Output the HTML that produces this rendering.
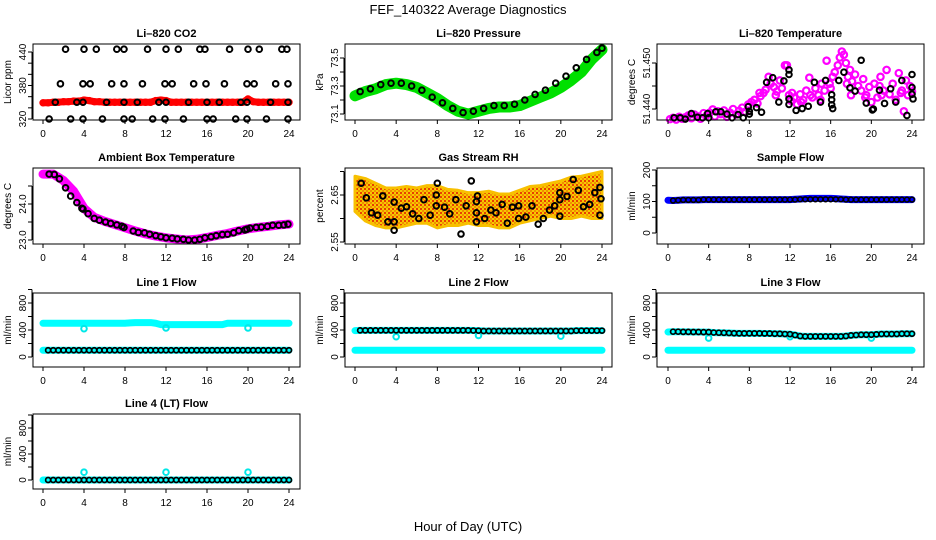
<!DOCTYPE html>
<html><head><meta charset="utf-8"><style>
html,body{margin:0;padding:0;background:#fff}
svg{display:block;font-family:"Liberation Sans",sans-serif}
</style></head><body>
<svg id="chart" width="936" height="540" viewBox="0 0 936 540" xmlns="http://www.w3.org/2000/svg">
<defs>
<pattern id="speckle" width="4" height="4" patternUnits="userSpaceOnUse">
<rect width="4" height="4" fill="#f8c800"/>
<rect x="0" y="0" width="2" height="2" fill="#e84000"/>
<rect x="2" y="2" width="2" height="2" fill="#f09000"/>
</pattern>
</defs>
<text x="468" y="14" font-size="13" text-anchor="middle">FEF_140322  Average Diagnostics</text>
<text x="468" y="531" font-size="13" text-anchor="middle">Hour of Day (UTC)</text>
</svg>
<script>
// ---- data ----
const co2BlackT = [2.2,4.0,5.2,7.2,7.9,10.2,12.0,13.2,15.3,15.8,18.2,20.0,21.1,23.3,23.8, 1.7,3.9,4.6,6.7,7.9,9.7,11.9,12.6,14.7,15.9,17.7,19.9,20.6,22.7,23.9, 1.2,3.3,3.9,6.2,7.9,9.2,11.3,12.0,14.2,16.0,17.2,19.3,19.9,22.2,23.9, 0.6,2.7,3.9,5.8,7.9,8.7,10.7,11.9,13.7,16.0,16.6,18.8,19.9,21.8,23.9];
const co2BlackV = [445,445,445,445,445,445,445,445,445,445,445,445,445,445,445, 383,383,383,383,383,383,383,383,383,383,383,383,383,383,383, 350,350,350,350,350,350,350,350,350,350,350,350,350,350,350, 320,320,320,320,320,320,320,320,320,320,320,320,320,320,320];
const co2Red = [349,349,350,350,351,351,352,352,354,353,351,351,350,350,350,350,350,350,350,350,350,350,353,354,353,350,350,350,350,350,350,350,350,350,350,350,350,350,350,350,356,351,350,350,350,350,350,350,350];
const pressGreen = [73.23,73.26,73.28,73.31,73.32,73.31,73.29,73.25,73.21,73.16,73.12,73.10,73.12,73.14,73.15,73.15,73.16,73.19,73.22,73.25,73.29,73.34,73.40,73.49,73.56];
const pressBlackT = [0.5,1.5,2.5,3.5,4.5,5.5,6.5,7.5,8.5,9.5,10.5,11.5,12.5,13.5,14.5,15.5,16.5,17.5,18.5,19.5,20.5,21.5,22.5,23.5,24];
const pressBlackV = [73.26,73.28,73.31,73.32,73.32,73.30,73.27,73.22,73.18,73.14,73.11,73.12,73.14,73.16,73.16,73.17,73.20,73.24,73.27,73.32,73.37,73.43,73.49,73.54,73.57];
const tempMagT = [0.2,0.5,0.8,1.1,1.4,1.7,2.0,2.3,2.6,2.9,3.2,3.5,3.8,4.1,4.4,4.6,4.9,5.2,5.5,5.8,6.1,6.4,6.7,7.0,7.3,7.6,7.9,8.2,8.5,8.8,9.1,9.4,9.6,9.9,10.1,10.4,10.7,11.0,11.2,11.5,11.7,11.9,12.1,12.4,12.7,13.0,13.3,13.6,13.9,14.2,14.5,14.8,15.1,15.4,15.6,15.9,16.2,16.4,16.7,16.9,17.1,17.3,17.5,17.7,17.9,18.1,18.4,18.7,19.0,19.2,19.5,19.8,20.0,20.3,20.6,20.9,21.2,21.5,21.8,22.1,22.4,22.7,23.0,23.2,23.4,23.6,23.8,24.0, 9.0,10.6,13.1,14.0,16.0,18.0,19.4,21.0,22.9,12.2,15.0,17.6,20.8];
const tempMagV = [51.4378,51.4381,51.4377,51.4383,51.4379,51.4382,51.4386,51.4380,51.4388,51.4384,51.4379,51.4391,51.4386,51.4392,51.4399,51.4384,51.4395,51.4389,51.4397,51.4383,51.4392,51.4400,51.4388,51.4396,51.4403,51.4394,51.4410,51.4415,51.4420,51.4412,51.4428,51.4435,51.4442,51.4470,51.4455,51.4448,51.4438,51.4462,51.4445,51.4495,51.4495,51.4430,51.4418,51.4425,51.4410,51.4432,51.4420,51.4440,51.4468,51.4425,51.4445,51.4430,51.4455,51.4440,51.4505,51.4455,51.4470,51.4480,51.4495,51.4512,51.4525,51.4518,51.4500,51.4470,51.4485,51.4460,51.4475,51.4450,51.4440,51.4465,51.4430,51.4448,51.4415,51.4455,51.4425,51.4470,51.4440,51.4485,51.4432,51.4455,51.4420,51.4478,51.4440,51.4395,51.4462,51.4430,51.4450,51.4438, 51.4435,51.4430,51.4415,51.4430,51.4445,51.4430,51.4425,51.4430,51.4435,51.4435,51.4420,51.4455,51.4450];
const tempBlackT = [0.6,1.2,1.7,2.3,2.9,3.4,3.9,4.0,4.7,5.2,5.8,6.3,6.9,7.4,7.9,8.0,8.0,8.7,9.2,9.7,10.3,10.9,11.4,11.9,11.9,11.9,11.9,12.6,13.2,13.8,14.4,15.0,15.5,16.1,16.1,16.1,16.2,16.8,17.3,17.9,18.4,19.0,19.5,20.1,20.2,20.8,21.3,21.9,22.4,23.0,23.5,24.0,24.0,24.0,24.1];
const tempBlackV = [51.4381,51.4381,51.4378,51.4390,51.4382,51.4381,51.4390,51.4381,51.4394,51.4394,51.4389,51.4381,51.4388,51.4381,51.4405,51.4395,51.4389,51.4403,51.4393,51.4458,51.4468,51.4415,51.4461,51.4485,51.4475,51.4422,51.4410,51.4397,51.4401,51.4406,51.4458,51.4415,51.4462,51.4431,51.4420,51.4409,51.4401,51.4462,51.4480,51.4446,51.4439,51.4506,51.4413,51.4398,51.4400,51.4441,51.4412,51.4444,51.4415,51.4462,51.4386,51.4475,51.4447,51.4432,51.4422];
const ambMag = [24.83,24.83,24.65,24.35,23.88,23.63,23.52,23.43,23.34,23.25,23.17,23.11,23.06,23.03,23.00,23.02,23.07,23.13,23.18,23.25,23.31,23.35,23.38,23.42,23.44];
const ambBlackT = [0.6,1.1,1.6,2.2,2.7,3.3,3.8,3.9,4.4,5.0,5.5,6.1,6.6,7.2,7.7,7.9,8.8,9.3,9.9,10.4,11.0,11.5,12.0,12.6,13.1,13.7,14.2,14.8,15.3,15.8,16.4,16.9,17.5,18.0,18.6,19.1,19.7,19.9,20.2,20.8,21.3,21.9,22.4,23.0,23.5,23.9];
const ambBlackV = [24.83,24.82,24.70,24.45,24.22,24.04,23.88,23.86,23.73,23.60,23.55,23.50,23.46,23.42,23.38,23.35,23.25,23.21,23.20,23.16,23.12,23.09,23.06,23.05,23.03,23.02,23.00,23.00,23.02,23.06,23.09,23.12,23.15,23.16,23.20,23.26,23.28,23.30,23.33,23.35,23.36,23.38,23.41,23.41,23.42,23.44];
const rhHours = [0,1,2,3,4,5,6,7,8,9,10,11,12,13,14,15,16,17,18,19,20,21,22,23,24];
const rhLo = [2.615,2.595,2.585,2.580,2.580,2.585,2.590,2.590,2.580,2.585,2.585,2.590,2.585,2.585,2.580,2.580,2.590,2.595,2.600,2.605,2.600,2.600,2.605,2.600,2.600];
const rhHi = [2.690,2.685,2.675,2.665,2.665,2.668,2.665,2.670,2.670,2.662,2.660,2.655,2.655,2.658,2.652,2.652,2.660,2.668,2.670,2.675,2.680,2.688,2.690,2.695,2.700];
const rhBlackT = [0.6,1.1,1.6,2.2,2.7,3.2,3.8,3.8,3.8,4.5,5.0,5.6,6.2,6.7,7.3,7.9,8.0,7.9,8.7,9.2,9.8,10.3,10.8,11.3,11.8,11.9,11.8,11.8,12.6,13.2,13.7,14.3,14.8,15.3,15.9,15.9,16.6,17.2,17.8,18.3,18.9,19.4,19.9,19.9,19.9,20.6,21.2,21.7,22.2,22.8,23.3,23.8,23.9,23.8];
const rhBlackV = [2.675,2.644,2.612,2.607,2.648,2.593,2.635,2.593,2.575,2.622,2.625,2.610,2.600,2.640,2.607,2.650,2.675,2.627,2.624,2.610,2.640,2.567,2.627,2.680,2.636,2.648,2.612,2.593,2.600,2.618,2.612,2.630,2.590,2.624,2.600,2.627,2.603,2.627,2.588,2.600,2.618,2.627,2.655,2.640,2.605,2.647,2.683,2.660,2.625,2.630,2.655,2.666,2.642,2.607];
const halfHours = [0,0.5,1,1.5,2,2.5,3,3.5,4,4.5,5,5.5,6,6.5,7,7.5,8,8.5,9,9.5,10,10.5,11,11.5,12,12.5,13,13.5,14,14.5,15,15.5,16,16.5,17,17.5,18,18.5,19,19.5,20,20.5,21,21.5,22,22.5,23,23.5,24];
const sampleBlue = [104,103,104,105,105,105,105,106,106,106,106,106,106,106,106,106,106,106,106,106,106,106,106,106,106,107,108,109,110,110,110,110,110,109,108,107,106,106,106,106,106,106,106,106,106,106,106,106,106];
const sampleBlack = [104,103,104,105,105,105,105,106,106,106,106,106,106,106,106,106,106,106,106,106,106,106,106,106,106,106,107,107,107,107,107,107,107,107,107,106,106,106,106,106,106,106,106,106,106,106,106,106,106];
const line1CyanHi = [500,500,500,500,500,500,500,500,500,500,500,500,500,500,500,500,500,505,510,510,510,510,500,480,480,480,480,480,480,480,480,480,480,480,480,480,500,500,500,500,500,500,500,500,500,500,500,500,500];
const line1Lo = [100,100,100,100,100,100,100,100,100,100,100,100,100,100,100,100,100,100,100,100,100,100,100,100,100,100,100,100,100,100,100,100,100,100,100,100,100,100,100,100,100,100,100,100,100,100,100,100,100];
const line1DipT = [4,12,20];
const line1DipV = [420,430,430];
const line2Hi = [390,395,395,395,395,395,395,395,395,395,395,395,395,395,395,395,395,395,395,395,395,395,395,392,390,385,385,385,385,385,385,385,385,385,385,385,385,385,385,385,385,385,385,390,390,390,390,390,390];
const line2DipV = [300,320,310];
const line3Hi = [370,375,375,372,372,370,370,368,368,362,360,358,355,352,350,350,350,350,350,348,348,345,345,340,338,325,310,305,305,305,305,305,305,305,305,310,320,325,330,330,330,335,340,340,340,340,345,345,345];
const line3DipV = [280,300,280];
const line4Zero = [0,0,0,0,0,0,0,0,0,0,0,0,0,0,0,0,0,0,0,0,0,0,0,0,0,0,0,0,0,0,0,0,0,0,0,0,0,0,0,0,0,0,0,0,0,0,0,0,0];
const line4SpikeV = [120,120,120];
const xTicks = [0,4,8,12,16,20,24];

// ---- drawing ----
const NS = 'http://www.w3.org/2000/svg';
const svg = document.getElementById('chart');
function mk(tag, attrs, parent) {
  const e = document.createElementNS(NS, tag);
  for (const k in attrs) e.setAttribute(k, attrs[k]);
  (parent || svg).appendChild(e);
  return e;
}
const COLS = [{x0:43,x24:289,l:33,r:300},{x0:355,x24:602,l:345,r:612},{x0:668,x24:912,l:657,r:924}];
const ROWS = [{t:44,b:120},{t:168,b:244},{t:293,b:367},{t:414,b:489}];

function panel(o) {
  const c = COLS[o.col], r = ROWS[o.row];
  const g = mk('g', {});
  
  
  const X = h => c.x0 + (c.x24 - c.x0) * h / 24;
  const Y = v => o.p1 + (o.p2 - o.p1) * (v - o.v1) / (o.v2 - o.v1);
  const pl = mk('g', {}, g);
  
  
  o.draw(pl, X, Y);
  const box = mk('rect', {x:c.l, y:r.t, width:c.r-c.l, height:r.b-r.t, fill:'none', stroke:'#000', 'stroke-width':1}, g);
  
  
  const title = mk('text', {x:(c.l+c.r)/2, y:r.t-7, 'font-size':11, 'font-weight':'bold', 'text-anchor':'middle'}, g);
  title.textContent = o.title;
  
  
  const xa = mk('g', {}, g);
  
  
  mk('line', {x1:X(0), x2:X(24), y1:r.b, y2:r.b, stroke:'#000'}, xa);
  xTicks.forEach(h => {
    mk('line', {x1:X(h), x2:X(h), y1:r.b, y2:r.b+4, stroke:'#000'}, xa);
    const t = mk('text', {x:X(h), y:r.b+17, 'font-size':10, 'text-anchor':'middle'}, xa);
    t.textContent = h;
    
    
  });
  const ya = mk('g', {}, g);
  
  
  mk('line', {x1:c.l-1, x2:c.l-1, y1:Y(o.ticks[0]), y2:Y(o.ticks[o.ticks.length-1]), stroke:'#000'}, ya);
  o.ticks.forEach(v => {
    mk('line', {x1:c.l-5, x2:c.l-1, y1:Y(v), y2:Y(v), stroke:'#000'}, ya);
  });
  o.labels.forEach(s => {
    const yy = Y(parseFloat(s));
    const t = mk('text', {x:c.l-7, y:yy, 'font-size':10, 'text-anchor':'middle', transform:'rotate(-90 '+(c.l-7)+' '+yy+')'}, ya);
    t.textContent = s;
    
    
  });
  const ym = (r.t + r.b) / 2;
  const yl = mk('text', {x:c.l-22, y:ym, 'font-size':10, 'text-anchor':'middle', transform:'rotate(-90 '+(c.l-22)+' '+ym+')'}, ya);
  yl.textContent = o.ylab;
  
  
}
function pts(g, T, V, X, Y, color, name, r, sw) {
  T.forEach((t, i) => {
    const e = mk('circle', {cx:X(t), cy:Y(V[i]), r:r||2.8, fill:'none', stroke:color, 'stroke-width':sw||2}, g);
    
    
  });
}
function band(g, T, V, X, Y, color, w, name) {
  const e = mk('polyline', {points:T.map((t,i)=>X(t)+','+Y(V[i])).join(' '), fill:'none', stroke:color, 'stroke-width':w, 'stroke-linejoin':'round', 'stroke-linecap':'round'}, g);
  
  
}
const hours = rhHours;

panel({name:'panel-li820-co2', col:0,row:0,title:'Li\u2013820 CO2',ylab:'Licor ppm',v1:320,p1:119,v2:440,p2:52,
  ticks:[320,340,360,380,400,420,440],labels:['320','380','440'],
  draw:(g,X,Y)=>{ band(g,halfHours,co2Red,X,Y,'#f00',7,'co2-red-series'); pts(g,halfHours,co2Red,X,Y,'#f00','co2-red-point',2.8,1.8); pts(g,co2BlackT,co2BlackV,X,Y,'#000','co2-black-point'); }});
panel({name:'panel-li820-pressure', col:1,row:0,title:'Li\u2013820 Pressure',ylab:'kPa',v1:73.1,p1:114,v2:73.5,p2:58,
  ticks:[73.1,73.2,73.3,73.4,73.5],labels:['73.1','73.3','73.5'],
  draw:(g,X,Y)=>{ band(g,hours,pressGreen,X,Y,'#00e000',11,'pressure-green-series'); pts(g,pressBlackT,pressBlackV,X,Y,'#000','pressure-black-point'); }});
panel({name:'panel-li820-temperature', col:2,row:0,title:'Li\u2013820 Temperature',ylab:'degrees C',v1:51.440,p1:109,v2:51.450,p2:63,
  ticks:[51.440,51.445,51.450],labels:['51.440','51.450'],
  draw:(g,X,Y)=>{ pts(g,tempMagT,tempMagV,X,Y,'#f0f','temp-magenta-point',3.2,2.2); pts(g,tempBlackT,tempBlackV,X,Y,'#000','temp-black-point'); }});
panel({name:'panel-ambient-box-temperature', col:0,row:1,title:'Ambient Box Temperature',ylab:'degrees C',v1:23.0,p1:240,v2:24.0,p2:204,
  ticks:[23.0,23.5,24.0,24.5],labels:['23.0','24.0'],
  draw:(g,X,Y)=>{ band(g,hours,ambMag,X,Y,'#f0f',9,'ambient-magenta-series'); pts(g,ambBlackT,ambBlackV,X,Y,'#000','ambient-black-point'); }});
panel({name:'panel-gas-stream-rh', col:1,row:1,title:'Gas Stream RH',ylab:'percent',v1:2.55,p1:242,v2:2.65,p2:195,
  ticks:[2.55,2.60,2.65,2.70],labels:['2.55','2.65'],
  draw:(g,X,Y)=>{
    const p = hours.map((t,i)=>X(t)+','+Y(rhHi[i])).concat(hours.slice().reverse().map((t,j)=>X(t)+','+Y(rhLo[hours.length-1-j])));
    const e = mk('polygon',{points:p.join(' '),fill:'url(#speckle)',stroke:'#f8c000','stroke-width':3,'stroke-linejoin':'round'},g);
    
    
    pts(g,rhBlackT,rhBlackV,X,Y,'#000','rh-black-point'); }});
panel({name:'panel-sample-flow', col:2,row:1,title:'Sample Flow',ylab:'ml/min',v1:0,p1:233,v2:200,p2:170,
  ticks:[0,50,100,150,200],labels:['0','100','200'],
  draw:(g,X,Y)=>{ band(g,halfHours,sampleBlue,X,Y,'#0000ff',7,'sample-blue-series'); pts(g,halfHours.slice(1),sampleBlack.slice(1),X,Y,'#000','sample-black-point',2.4,1.6); }});
const flowTicks = [0,200,400,600,800,1000], flowLabels = ['0','400','800'];
panel({name:'panel-line1-flow', col:0,row:2,title:'Line 1 Flow',ylab:'ml/min',v1:0,p1:357,v2:800,p2:303,ticks:flowTicks,labels:flowLabels,
  draw:(g,X,Y)=>{ band(g,halfHours,line1CyanHi,X,Y,'#00ffff',7,'line1-cyan-high'); band(g,halfHours,line1Lo,X,Y,'#00ffff',7,'line1-cyan-low');
    pts(g,line1DipT,line1DipV,X,Y,'#00e8e8','line1-cyan-dip',2.8,2); pts(g,halfHours.slice(1),line1Lo.slice(1),X,Y,'#000','line1-black-point',2.5,1.7); }});
panel({name:'panel-line2-flow', col:1,row:2,title:'Line 2 Flow',ylab:'ml/min',v1:0,p1:357,v2:800,p2:303,ticks:flowTicks,labels:flowLabels,
  draw:(g,X,Y)=>{ band(g,halfHours,line2Hi,X,Y,'#00ffff',7,'line2-cyan-high'); band(g,halfHours,line1Lo,X,Y,'#00ffff',7,'line2-cyan-low');
    pts(g,line1DipT,line2DipV,X,Y,'#00e8e8','line2-cyan-dip',2.8,2); pts(g,halfHours.slice(1),line2Hi.slice(1),X,Y,'#000','line2-black-point',2.5,1.7); }});
panel({name:'panel-line3-flow', col:2,row:2,title:'Line 3 Flow',ylab:'ml/min',v1:0,p1:357,v2:800,p2:303,ticks:flowTicks,labels:flowLabels,
  draw:(g,X,Y)=>{ band(g,halfHours,line3Hi,X,Y,'#00ffff',7,'line3-cyan-high'); band(g,halfHours,line1Lo,X,Y,'#00ffff',7,'line3-cyan-low');
    pts(g,line1DipT,line3DipV,X,Y,'#00e8e8','line3-cyan-dip',2.8,2); pts(g,halfHours.slice(1),line3Hi.slice(1),X,Y,'#000','line3-black-point',2.5,1.7); }});
panel({name:'panel-line4-flow', col:0,row:3,title:'Line 4 (LT) Flow',ylab:'ml/min',v1:0,p1:480,v2:800,p2:428,ticks:flowTicks,labels:flowLabels,
  draw:(g,X,Y)=>{ band(g,halfHours,line4Zero,X,Y,'#00ffff',7,'line4-cyan-series');
    pts(g,line1DipT,line4SpikeV,X,Y,'#00e8e8','line4-cyan-spike',2.8,2); pts(g,halfHours.slice(1),line4Zero.slice(1),X,Y,'#000','line4-black-point',2.5,1.7); }});
</script>
</body></html>
